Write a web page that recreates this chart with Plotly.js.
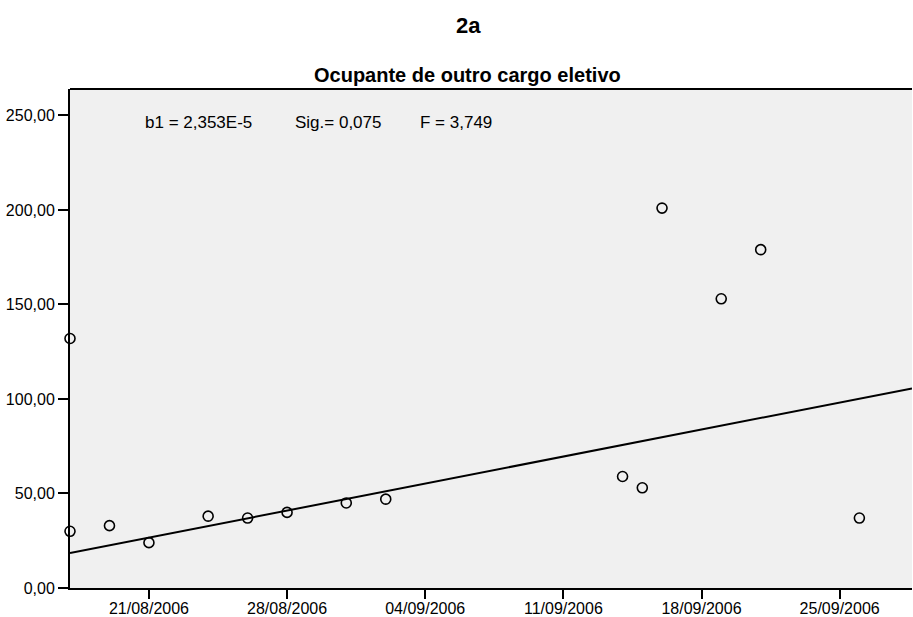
<!DOCTYPE html>
<html>
<head>
<meta charset="utf-8">
<script src="https://cdn.plot.ly/plotly-3.0.1.min.js"></script>
<style>html,body{margin:0;padding:0;background:#fff}#chart{width:913px;height:617px}</style>
</head>
<body>
<div id="chart"></div>
<script>
// Observations
const dates = ['2006-08-17','2006-08-17','2006-08-19','2006-08-21','2006-08-24','2006-08-26','2006-08-28','2006-08-31','2006-09-02','2006-09-14','2006-09-15','2006-09-16','2006-09-19','2006-09-21','2006-09-26'];
const values = [132, 30, 33, 24, 38, 37, 40, 45, 47, 59, 53, 201, 153, 179, 37];
// Fitted regression line (endpoints)
const fitDates = ['2006-08-17','2006-09-28 16:00'];
const fitValues = [18.5, 105.6];
// Axis ticks
const xTickVals = ['2006-08-21','2006-08-28','2006-09-04','2006-09-11','2006-09-18','2006-09-25'];
const xTickText = ['21/08/2006','28/08/2006','04/09/2006','11/09/2006','18/09/2006','25/09/2006'];
const yTickVals = [0, 50, 100, 150, 200, 250];
const yTickText = ['0,00','50,00','100,00','150,00','200,00','250,00'];
// Statistics text
const statTexts = ['b1 = 2,353E-5', 'Sig.= 0,075', 'F = 3,749'];

const font = 'Liberation Sans, Arial, sans-serif';

const traces = [
  {x: fitDates, y: fitValues, type: 'scatter', mode: 'lines',
   line: {color: '#000', width: 2}, hoverinfo: 'skip', cliponaxis: true},
  {x: dates, y: values, type: 'scatter', mode: 'markers',
   marker: {symbol: 'circle-open', size: 10, color: '#000', line: {width: 1.6, color: '#000'}},
   cliponaxis: false}
];

const statX = [0.0867, 0.2648, 0.4133];

const layout = {
  width: 913, height: 617,
  margin: {l: 70, r: 1, t: 89, b: 29},
  paper_bgcolor: '#fff', plot_bgcolor: '#f0f0f0',
  showlegend: false,
  font: {family: font, size: 16, color: '#000'},
  xaxis: {
    type: 'date', range: ['2006-08-17', '2006-09-28 16:00'],
    tickvals: xTickVals, ticktext: xTickText,
    ticks: 'outside', ticklen: 9, tickwidth: 2, tickcolor: '#000',
    ticklabelstandoff: -4,
    showline: true, linecolor: '#000', linewidth: 2, mirror: false,
    showgrid: false, zeroline: false,
    tickfont: {family: font, size: 16, color: '#000'}
  },
  yaxis: {
    range: [0, 264],
    tickvals: yTickVals, ticktext: yTickText,
    ticks: 'outside', ticklen: 10, tickwidth: 2, tickcolor: '#000',
    showline: true, linecolor: '#000', linewidth: 2,
    showgrid: false, zeroline: false,
    tickfont: {family: font, size: 16, color: '#000'}
  },
  shapes: [
    {type: 'line', xref: 'paper', yref: 'paper', x0: 0, x1: 1, y0: 1, y1: 1,
     line: {color: '#000', width: 2}}
  ],
  annotations: [
    {text: '<b>2a</b>', xref: 'paper', yref: 'paper', x: 0.4727, y: 1, yshift: 64,
     xanchor: 'center', yanchor: 'middle', showarrow: false,
     font: {family: font, size: 22, color: '#000'}},
    {text: '<b>Ocupante de outro cargo eletivo</b>', xref: 'paper', yref: 'paper', x: 0.4715, y: 1, yshift: 14,
     xanchor: 'center', yanchor: 'middle', showarrow: false,
     font: {family: font, size: 20, color: '#000'}}
  ].concat(statTexts.map((t, i) => ({
     text: t, xref: 'paper', yref: 'paper', x: statX[i], y: 1, yshift: -33,
     xanchor: 'left', yanchor: 'middle', showarrow: false,
     font: {family: font, size: 17, color: '#000'}})))
};

Plotly.newPlot('chart', traces, layout, {staticPlot: true, displayModeBar: false});
</script>
</body>
</html>
